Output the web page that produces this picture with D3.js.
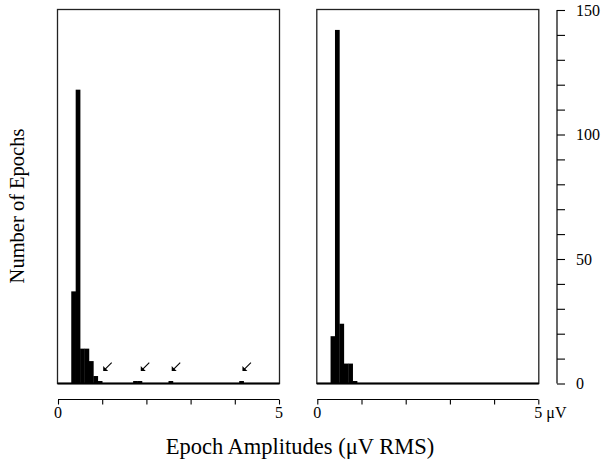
<!DOCTYPE html>
<html>
<head>
<meta charset="utf-8">
<script src="https://cdn.jsdelivr.net/npm/d3@7"></script>
<style>
  body { margin: 0; background: #fff; }
  text { font-family: "Liberation Serif", "DejaVu Serif", serif; fill: #000; }
</style>
</head>
<body>
<svg id="chart"></svg>
<script>
// histogram data: bin start (uV RMS) and number of epochs per bin
var binWidth = 0.1;
var leftBins = [0.3, 0.4, 0.5, 0.6, 0.7, 0.8, 0.9, 1.7, 1.8, 2.5, 4.1];
var leftCounts = [37, 118, 14, 14, 9, 3, 1, 1, 1, 1, 1];
var rightBins = [0.3, 0.4, 0.5, 0.6, 0.7, 0.8];
var rightCounts = [19, 142, 24, 8, 8, 1];
// arrows marking the outlying epochs in the left panel
var arrowAt = [1.0, 1.85, 2.55, 4.15];
var arrowLevel = 5;

var xTicks = [0, 1, 2, 3, 4, 5];
var yMajor = [0, 50, 100, 150];

var w = 603, h = 469;
var svg = d3.select("#chart").attr("width", w).attr("height", h);

var plotTop = 10, plotBottom = 383.5;
var y = d3.scaleLinear().domain([0, 150]).range([plotBottom, plotTop]);

var panels = [
  {x0: 58, x1: 279, bins: leftBins, counts: leftCounts, arrows: arrowAt},
  {x0: 317.3, x1: 538.3, bins: rightBins, counts: rightCounts, arrows: []}
];

panels.forEach(function (p, k) {
  var x = d3.scaleLinear().domain([0, 5]).range([p.x0, p.x1]);
  var g = svg.append("g");

  // frame
  g.append("rect")
    .attr("x", p.x0 - 0.5).attr("y", plotTop - 0.5)
    .attr("width", p.x1 - p.x0 + 1).attr("height", plotBottom - plotTop + 0.5)
    .attr("fill", "none").attr("stroke", "#222").attr("stroke-width", 1.3);

  var data = p.bins.map(function (b, i) { return {x: b, n: p.counts[i]}; });
  g.selectAll("rect.bar")
    .data(data)
    .enter().append("rect")
      .attr("class", "bar")
      .attr("x", function (d) { return x(d.x); })
      .attr("width", function (d) { return x(d.x + binWidth) - x(d.x) + 0.3; })
      .attr("y", function (d) { return y(d.n); })
      .attr("height", function (d) { return plotBottom - y(d.n); })
      .attr("fill", "#000");

  // thick baseline
  g.append("line")
    .attr("x1", p.x0 - 0.5).attr("x2", p.x1 + 0.5)
    .attr("y1", plotBottom).attr("y2", plotBottom)
    .attr("stroke", "#000").attr("stroke-width", 2.2);

  // arrows
  p.arrows.forEach(function (a) {
    var tx = x(a) + 1, ty = y(arrowLevel);
    g.append("line")
      .attr("x1", tx + 1).attr("y1", ty - 1)
      .attr("x2", tx + 8.5).attr("y2", ty - 8.5)
      .attr("stroke", "#000").attr("stroke-width", 1.1);
    g.append("path")
      .attr("d", "M" + tx + "," + ty + "l0,-5 l1.6,1.6 l1.8,1.8 l1.6,1.6 z")
      .attr("fill", "#000");
  });

  // x axis under panel
  var xAxis = d3.axisBottom(x).tickValues(xTicks).tickSize(5).tickFormat("");
  var ax = svg.append("g")
    .attr("class", "axis axis--x")
    .attr("transform", "translate(0,399.5)")
    .call(xAxis);
  ax.select(".domain").attr("d", "M" + p.x0 + ",0H" + p.x1).attr("stroke", "#000").attr("stroke-width", 1.2);
  ax.selectAll(".tick line").attr("stroke", "#000").attr("stroke-width", 1.1);

  svg.append("text")
    .attr("x", x(0)).attr("y", 418)
    .attr("text-anchor", "middle").attr("font-size", 16)
    .text("0");
  var five = svg.append("text")
    .attr("x", x(5) - 4).attr("y", 418)
    .attr("font-size", 16)
    .text("5");
  if (k === 1) five.text("5 \u03bcV");
});

// y axis at right
var yAxis = d3.axisRight(y).ticks(15).tickSize(8).tickFormat("");
var ay = svg.append("g")
  .attr("class", "axis axis--y")
  .attr("transform", "translate(557,0)")
  .call(yAxis);
ay.select(".domain").attr("d", "M0," + plotTop + "V" + plotBottom).attr("stroke", "#000").attr("stroke-width", 1.2);
ay.selectAll(".tick line").attr("stroke", "#000").attr("stroke-width", 1.1);

svg.selectAll("text.ylab")
  .data(yMajor)
  .enter().append("text")
    .attr("class", "ylab")
    .attr("x", 576).attr("y", function (d) { return y(d) + 5.5; })
    .attr("font-size", 16)
    .text(function (d) { return d; });

// axis titles
svg.append("text")
  .attr("transform", "translate(24,206) rotate(-90)")
  .attr("text-anchor", "middle").attr("font-size", 20.5)
  .text("Number of Epochs");

svg.append("text")
  .attr("x", 300).attr("y", 454)
  .attr("text-anchor", "middle").attr("font-size", 22.5)
  .text("Epoch Amplitudes (\u03bcV RMS)");
</script>
</body>
</html>
